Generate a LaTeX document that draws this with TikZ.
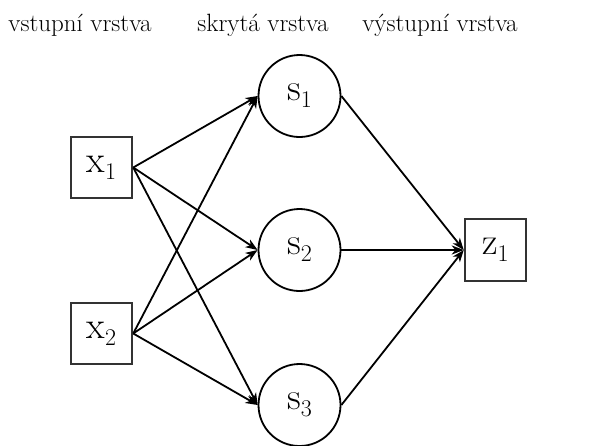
\documentclass[tikz,border=0pt]{standalone}
\usepackage{tikz}
\usetikzlibrary{arrows.meta}

\newcommand{\subidx}[1]{\raisebox{-7pt}{\fontsize{24}{24}\selectfont #1}}

\begin{document}
\begin{tikzpicture}[x=1pt,y=-1pt,
    unit/.style={draw=black!80, line width=2pt, minimum size=61.5pt, inner sep=0pt, font=\fontsize{38}{38}\selectfont},
    neuron/.style={circle, draw, line width=1.8pt, minimum size=82pt, inner sep=0pt, font=\fontsize{38}{38}\selectfont},
    layer/.style={anchor=base, font=\fontsize{25}{30}\selectfont},
    conn/.style={line width=1.8pt, -{Stealth[length=12pt,width=9pt,inset=3.5pt]}}]
    \useasboundingbox (0,0) rectangle (593,445);

    % Layer titles
    \node[layer] (tin) at (80,31) {vstupní vrstva};
    \node[layer] (thid) at (263,31) {skrytá vrstva};
    \node[layer] (tout) at (440,31) {výstupní vrstva};

    % Input layer
    \node[unit] (x1) at (101.5,167.5) {x\subidx{1}};
    \node[unit] (x2) at (101.5,333.5) {x\subidx{2}};

    % Hidden layer
    \node[neuron] (s1) at (299.5,96) {s\subidx{1}};
    \node[neuron] (s2) at (299.5,250) {s\subidx{2}};
    \node[neuron] (s3) at (299.5,405) {s\subidx{3}};

    % Output layer
    \node[unit] (z1) at (495.5,250) {z\subidx{1}};

    % Connections
    \foreach \i in {1,2} {
        \foreach \j in {1,2,3} {
            \draw[conn] (x\i.east) -- (s\j.west);
        }
    }
    \foreach \j in {1,2,3} {
        \draw[conn] (s\j.east) -- (z1.west);
    }
\end{tikzpicture}
\end{document}
